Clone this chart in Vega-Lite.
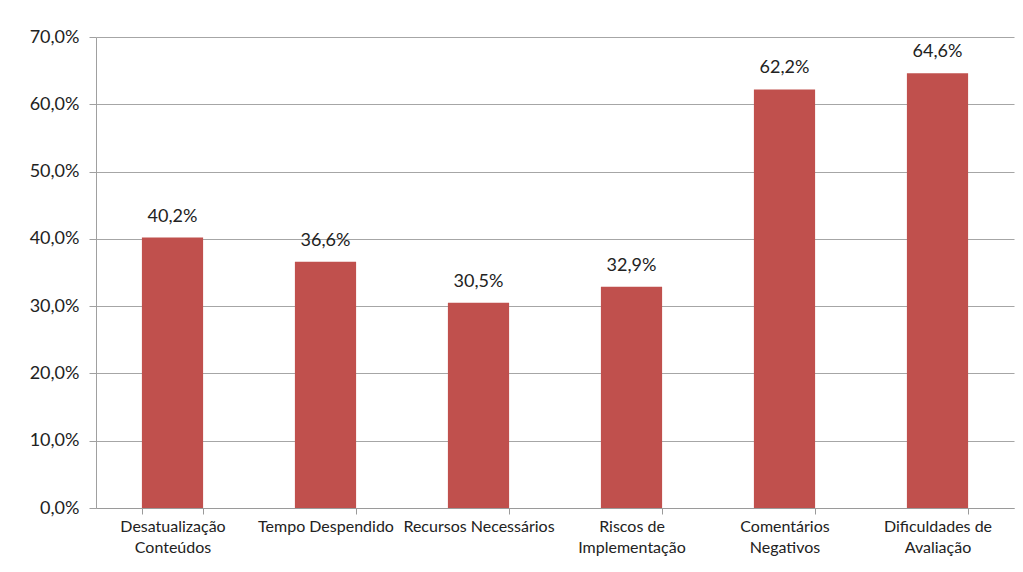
{
  "$schema": "https://vega.github.io/schema/vega-lite/v6.json",
  "autosize": "none",
  "width": 918,
  "height": 471,
  "padding": {"left": 96, "top": 37, "right": 9, "bottom": 64},
  "background": "white",
  "config": {
    "locale": {"number": {"decimal": ",", "thousands": ".", "grouping": [3], "currency": ["", ""]}},
    "view": {"stroke": null},
    "font": "Lato"
  },
  "data": {
    "values": [
      {"categoria": "Desatualização|Conteúdos", "valor": 0.402},
      {"categoria": "Tempo Despendido", "valor": 0.366},
      {"categoria": "Recursos Necessários", "valor": 0.305},
      {"categoria": "Riscos de|Implementação", "valor": 0.329},
      {"categoria": "Comentários|Negativos", "valor": 0.622},
      {"categoria": "Dificuldades de|Avaliação", "valor": 0.646}
    ]
  },
  "encoding": {
    "x": {
      "field": "categoria",
      "type": "nominal",
      "sort": null,
      "scale": {"paddingInner": 0.6, "paddingOuter": 0.3},
      "axis": {
        "title": null,
        "labelAngle": 0,
        "labelExpr": "split(datum.label, '|')",
        "labelFont": "Lato",
        "labelFontSize": 16,
        "labelColor": "#222222",
        "labelPadding": 4,
        "labelLineHeight": 21,
        "tickBand": "extent",
        "tickSize": 6,
        "tickColor": "#9a9a9a",
        "domainColor": "#9a9a9a",
        "grid": false
      }
    },
    "y": {
      "field": "valor",
      "type": "quantitative",
      "scale": {"domain": [0, 0.7], "nice": false},
      "axis": {
        "title": null,
        "format": ".1%",
        "values": [0, 0.1, 0.2, 0.3, 0.4, 0.5, 0.6, 0.7],
        "labelFont": "Lato",
        "labelFontSize": 18,
        "labelColor": "#222222",
        "labelPadding": 10,
        "tickSize": 7,
        "tickColor": "#a0a0a0",
        "domainColor": "#a0a0a0",
        "gridColor": "#a6a6a6",
        "gridWidth": 1.2
      }
    }
  },
  "layer": [
    {"mark": {"type": "bar", "color": "#C0504D"}},
    {
      "mark": {"type": "text", "baseline": "bottom", "dy": -12, "font": "Lato", "fontSize": 18, "color": "#222222"},
      "encoding": {"text": {"field": "valor", "type": "quantitative", "format": ".1%"}}
    }
  ]
}
